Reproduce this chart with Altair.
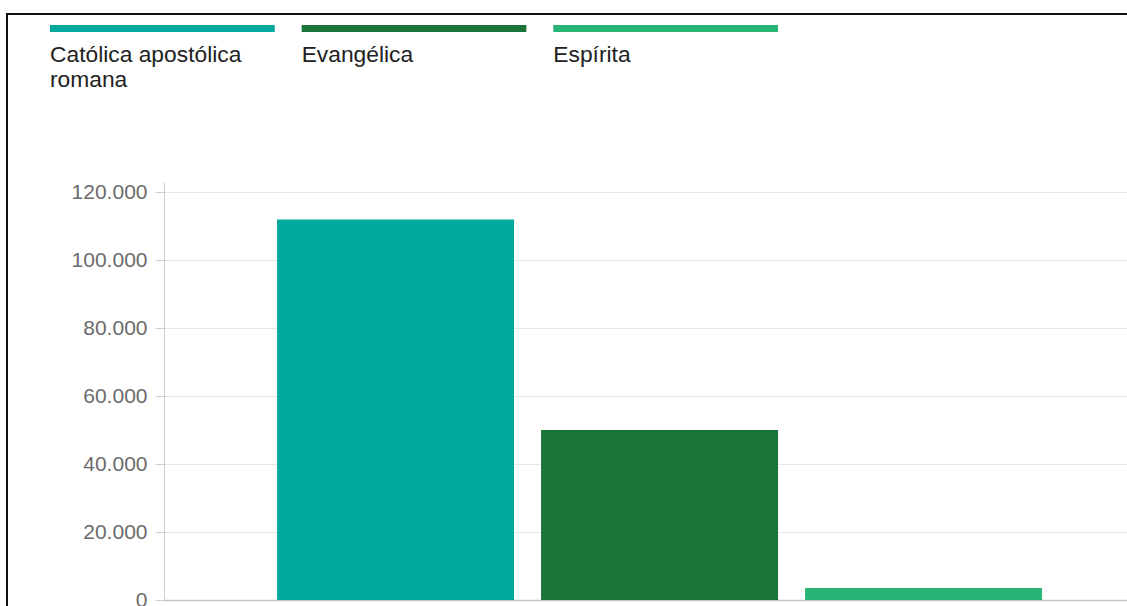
import altair as alt
import pandas as pd

# Religions and number of followers
religioes = ["Católica apostólica romana", "Evangélica", "Espírita"]
seguidores = [112000, 50000, 3500]
cores = ["#00a99d", "#1a7439", "#26b574"]
y_ticks = [0, 20000, 40000, 60000, 80000, 100000, 120000]

df = pd.DataFrame({"religiao": religioes, "seguidores": seguidores})
legenda_df = pd.DataFrame({
    "religiao": religioes,
    "rotulo": ["Católica apostólica\nromana", "Evangélica", "Espírita"],
})

FONT = "Liberation Sans"
W, H = 963, 418

cor = alt.Color("religiao:N", scale=alt.Scale(domain=religioes, range=cores), legend=None)

barras = alt.Chart(df).mark_bar().encode(
    x=alt.X(
        "religiao:N",
        sort=religioes,
        scale=alt.Scale(paddingInner=0.1023, paddingOuter=0.375, align=0.571),
        axis=alt.Axis(labels=False, ticks=False, title=None, grid=False,
                      domainColor="#c4c4c4", domainWidth=1.5),
    ),
    y=alt.Y(
        "seguidores:Q",
        scale=alt.Scale(domain=[0, 123000], nice=False),
        axis=alt.Axis(
            values=y_ticks, title=None,
            labelExpr="replace(format(datum.value, ','), ',', '.')",
            labelFont=FONT, labelFontSize=21, labelColor="#6b6b6b",
            labelPadding=8, tickSize=9, tickColor="#cccccc",
            domainColor="#cccccc", gridColor="#e6e6e6",
        ),
    ),
    color=cor,
)

# Legend: coloured strips with the label underneath
leg_scale = alt.Scale(range=[-114, 614], paddingInner=0.107, paddingOuter=0)
faixas = alt.Chart(legenda_df).mark_bar().encode(
    x=alt.X("religiao:N", sort=religioes, scale=leg_scale, axis=None),
    y=alt.value(-157),
    y2=alt.value(-150),
    color=cor,
)
rotulos = alt.Chart(legenda_df).mark_text(
    align="left", baseline="alphabetic", font=FONT, fontSize=22.8,
    lineBreak="\n", lineHeight=25, color="#222222",
).encode(
    x=alt.X("religiao:N", sort=religioes, bandPosition=0, scale=leg_scale, axis=None),
    y=alt.value(-120),
    text="rotulo:N",
)
legenda = alt.layer(faixas, rotulos)

# Outer frame lines
moldura_df = pd.DataFrame({"k": [0]})
topo = alt.Chart(moldura_df).mark_rule(color="#111111", strokeWidth=2).encode(
    x=alt.value(-158), x2=alt.value(W), y=alt.value(-168)
)
esquerda = alt.Chart(moldura_df).mark_rule(color="#111111", strokeWidth=2).encode(
    x=alt.value(-157), y=alt.value(-169), y2=alt.value(H + 6)
)

chart = alt.layer(barras, legenda, topo, esquerda).resolve_scale(
    x="independent"
).properties(
    width=W,
    height=H,
    padding={"left": 164, "top": 182, "right": 0, "bottom": 6},
    autosize=alt.AutoSizeParams(type="none"),
    background="white",
).configure_view(stroke=None)

chart.save("out.html", embed_options={"renderer": "svg", "actions": False})
